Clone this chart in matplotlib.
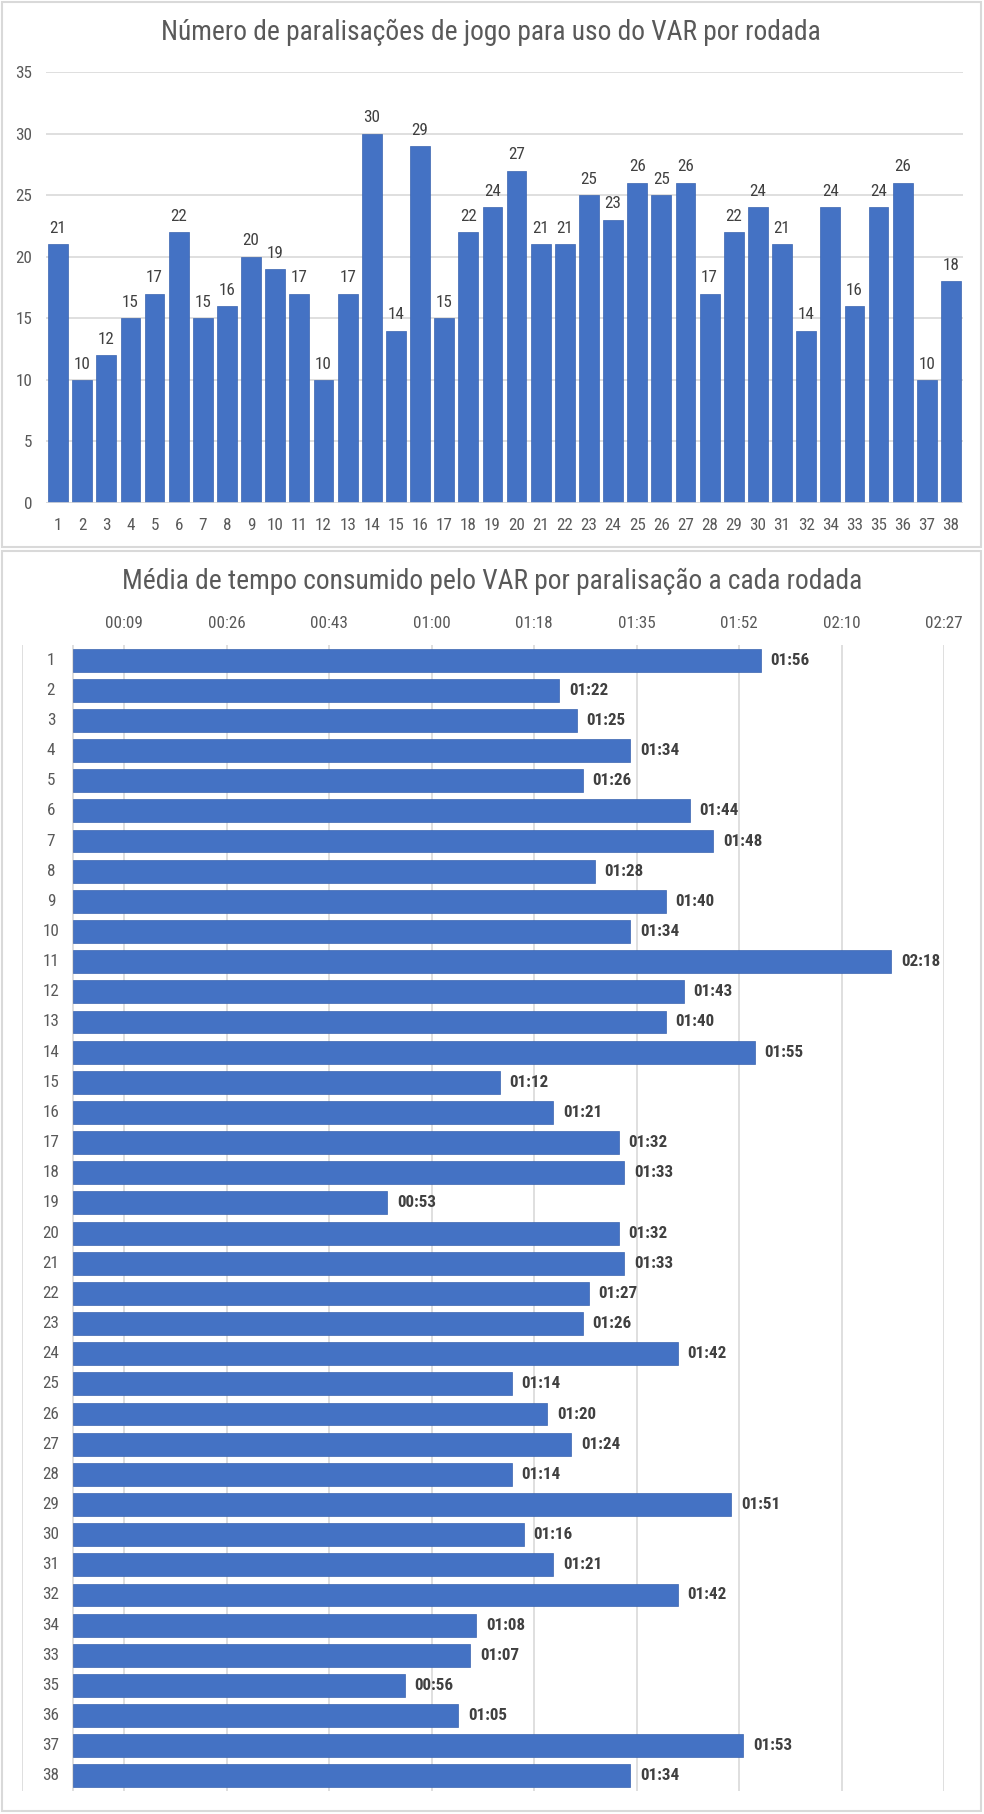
import matplotlib.pyplot as plt
from matplotlib import font_manager
from matplotlib.patches import Rectangle

# Calibri-like narrow face if one is installed
_names = {f.name for f in font_manager.fontManager.ttflist}
_pick = [n for n in ["Liberation Sans Narrow", "DejaVu Sans Condensed", "Roboto Condensed",
                     "Open Sans Condensed", "Roboto", "DejaVu Sans"] if n in _names]
plt.rcParams['font.family'] = _pick[:1] + ['DejaVu Sans']

# --- data
rodadas = [str(i) for i in range(1, 33)] + ["34", "33", "35", "36", "37", "38"]
paralisacoes = [21, 10, 12, 15, 17, 22, 15, 16, 20, 19, 17, 10, 17, 30, 14, 29, 15,
                22, 24, 27, 21, 21, 25, 23, 26, 25, 26, 17, 22, 24, 21, 14, 24, 16,
                24, 26, 10, 18]
tempo_medio = ["01:56", "01:22", "01:25", "01:34", "01:26", "01:44", "01:48", "01:28",
               "01:40", "01:34", "02:18", "01:43", "01:40", "01:55", "01:12", "01:21",
               "01:32", "01:33", "00:53", "01:32", "01:33", "01:27", "01:26", "01:42",
               "01:14", "01:20", "01:24", "01:14", "01:51", "01:16", "01:21", "01:42",
               "01:08", "01:07", "00:56", "01:05", "01:53", "01:34"]


def to_sec(s):
    m, ss = s.split(":")
    return int(m) * 60 + int(ss)


def fmt(sec):
    sec = int(round(sec))
    return f"{sec // 60:02d}:{sec % 60:02d}"


segundos = [to_sec(t) for t in tempo_medio]

BLUE = "#4472C4"
EDGE = "#3A64B0"
GRID = "#D9D9D9"
TXT = "#595959"
LBL = "#404040"
FS = 12.3

W, H = 984, 1814
fig = plt.figure(figsize=(W / 100, H / 100), dpi=100)


def px_axes(left, top, right, bottom):
    return fig.add_axes([left / W, 1 - bottom / H, (right - left) / W, (bottom - top) / H])


# panel borders
for (x0, y0, x1, y1) in [(2, 2, 981, 547), (2, 551, 981, 1811)]:
    fig.patches.append(Rectangle((x0 / W, 1 - y1 / H), (x1 - x0) / W, (y1 - y0) / H,
                                 transform=fig.transFigure, fill=False,
                                 edgecolor=GRID, linewidth=1.5))

# ---------------- top chart
ax1 = px_axes(46, 72, 963, 503)
x = range(len(rodadas))
bars = ax1.bar(x, paralisacoes, width=0.82, color=BLUE, edgecolor=EDGE, linewidth=0.5, zorder=3)
ax1.set_xlim(-0.5, len(rodadas) - 0.5)
ax1.set_ylim(0, 35)
ax1.set_yticks(range(0, 36, 5))
ax1.grid(axis="y", color=GRID, linewidth=1.2, zorder=0)
for s in ax1.spines.values():
    s.set_visible(False)
ax1.axhline(0, color=GRID, linewidth=1.2, zorder=4)
ax1.set_xticks(list(x))
ax1.set_xticklabels(rodadas)
ax1.tick_params(axis="both", length=0, labelsize=FS, colors=TXT)
ax1.tick_params(axis="x", pad=11)
ax1.tick_params(axis="y", pad=10)
for b, v in zip(bars, paralisacoes):
    ax1.annotate(str(v), (b.get_x() + b.get_width() / 2, v), xytext=(0, 6),
                 textcoords="offset points", ha="center", va="bottom",
                 fontsize=FS, color=LBL)
fig.text(491 / W, 1 - 32 / H, "Número de paralisações de jogo para uso do VAR por rodada",
         ha="center", va="center", fontsize=19.8, color=TXT)

# ---------------- bottom chart
step = 17.28
ticks = [step / 2 + step * k for k in range(9)]
ax2 = px_axes(21.6, 645, 944, 1791)
y = range(len(rodadas))
hb = ax2.barh(y, segundos, height=0.76, color=BLUE, edgecolor=EDGE, linewidth=0.5, zorder=3)
ax2.set_xlim(-step / 2, ticks[-1])
ax2.set_ylim(len(rodadas) - 0.5, -0.5)
ax2.set_xticks([-step / 2] + ticks)
ax2.set_xticklabels([""] + [fmt(t) for t in ticks])
ax2.xaxis.tick_top()
ax2.set_yticks([])
ax2.grid(axis="x", color=GRID, linewidth=1.2, zorder=0)
for s in ax2.spines.values():
    s.set_visible(False)
ax2.axvline(0, color=GRID, linewidth=1.2, zorder=2)
ax2.tick_params(axis="x", length=0, labelsize=FS, colors=TXT, pad=10)
for i, r in enumerate(rodadas):
    ax2.text(-3.7, i, r, ha="center", va="center", fontsize=FS, color=TXT)
for b, t in zip(hb, tempo_medio):
    ax2.annotate(t, (b.get_width(), b.get_y() + b.get_height() / 2), xytext=(7, 0),
                 textcoords="offset points", ha="left", va="center",
                 fontsize=FS, fontweight="bold", color=LBL)
fig.text(492 / W, 1 - 581 / H, "Média de tempo consumido pelo VAR por paralisação a cada rodada",
         ha="center", va="center", fontsize=19.8, color=TXT)

fig.savefig("out.png", dpi=100, facecolor="white")
